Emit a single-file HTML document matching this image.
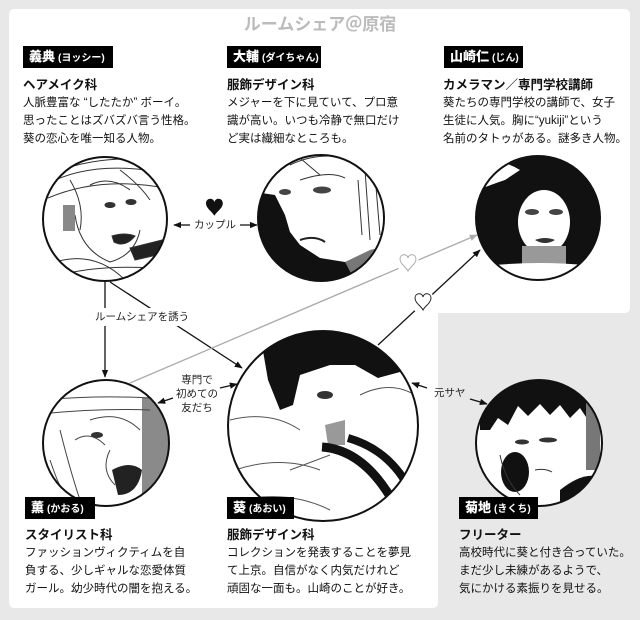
<!DOCTYPE html>
<html><head><meta charset="utf-8">
<style>
html,body{margin:0;padding:0;}
body{width:640px;height:620px;position:relative;overflow:hidden;background:#e8e8e8;font-family:"Liberation Sans","Noto Sans CJK JP",sans-serif;color:#111;}
svg{position:absolute;left:0;top:0;}
.t{position:absolute;white-space:nowrap;}
.title{left:0;top:15px;width:640px;text-align:center;font-size:17px;font-weight:bold;color:#bbb;line-height:20px;}
.lab{position:absolute;height:22px;line-height:22px;background:#000;color:#fff;font-weight:bold;white-space:nowrap;padding-left:6px;box-sizing:border-box;}
.lab b{font-size:13px;}
.lab span{font-size:10px;margin-left:3px;}
.col{position:absolute;white-space:nowrap;font-size:11.5px;line-height:18px;}
.col h{display:block;font-size:12.5px;font-weight:bold;}
.cl{position:absolute;font-size:10.5px;line-height:14px;white-space:nowrap;color:#222;}
</style></head>
<body>
<svg width="640" height="620" viewBox="0 0 640 620">
<defs>
<marker id="ah" viewBox="0 0 10 10" refX="9" refY="5" markerWidth="8" markerHeight="8" markerUnits="userSpaceOnUse" orient="auto"><path d="M0,1 L10,5 L0,9 z" fill="#111"/></marker>
<marker id="ahg" viewBox="0 0 10 10" refX="9" refY="5" markerWidth="8" markerHeight="8" markerUnits="userSpaceOnUse" orient="auto"><path d="M0,1 L10,5 L0,9 z" fill="#aaa"/></marker>
<clipPath id="c1"><circle cx="105" cy="219" r="62"/></clipPath>
<clipPath id="c2"><circle cx="321" cy="218" r="63"/></clipPath>
<clipPath id="c3"><circle cx="538" cy="218" r="62"/></clipPath>
<clipPath id="c4"><circle cx="106" cy="443" r="63"/></clipPath>
<clipPath id="c5"><circle cx="323" cy="426" r="95"/></clipPath>
<clipPath id="c6"><circle cx="539" cy="443" r="63"/></clipPath>
</defs>
<path d="M15,9 H624 Q630,9 630,15 V307 Q630,313 624,313 H438 V602 Q438,608 432,608 H15 Q9,608 9,602 V15 Q9,9 15,9 Z" fill="#fff"/>

<!-- connectors -->
<g stroke="#111" stroke-width="1.3" fill="none">
<line x1="190" y1="225" x2="174" y2="225" marker-end="url(#ah)"/>
<line x1="240" y1="225" x2="257" y2="225" marker-end="url(#ah)"/>
<line x1="105" y1="281" x2="105" y2="377" marker-end="url(#ah)"/>
<line x1="110" y1="282" x2="242" y2="368" marker-end="url(#ah)"/>
<line x1="378" y1="345" x2="480" y2="250" marker-end="url(#ah)"/>
<line x1="427" y1="388" x2="412" y2="383" marker-end="url(#ah)"/>
<line x1="470" y1="399" x2="487" y2="404" marker-end="url(#ah)"/>
<line x1="220" y1="388" x2="237" y2="384" marker-end="url(#ah)"/>
<line x1="173" y1="398" x2="158" y2="403" marker-end="url(#ah)"/>
</g>
<line x1="130" y1="383" x2="477" y2="235" stroke="#aaa" stroke-width="1.3" marker-end="url(#ahg)"/>

<!-- Yoshi -->
<circle cx="105" cy="219" r="62" fill="#fff"/>
<g clip-path="url(#c1)" fill="none" stroke="#333" stroke-width="1">
<path d="M45,185 Q90,160 160,172"/><path d="M48,198 Q100,176 165,188"/><path d="M55,172 Q100,155 150,160"/>
<path d="M70,180 Q85,205 80,230"/><path d="M75,215 Q80,250 110,262 Q135,255 140,230"/>
<path d="M55,262 Q95,250 125,280"/><path d="M60,275 Q100,265 150,268"/>
<path d="M90,185 Q110,175 130,190"/><path d="M120,170 Q140,185 150,200"/>
<rect x="63" y="205" width="12" height="26" fill="#888" stroke="none"/>
<ellipse cx="110" cy="205" rx="5" ry="2.5" fill="#333"/><ellipse cx="131" cy="202" rx="5" ry="2.5" fill="#333"/>
<path d="M112,236 Q125,232 135,236 Q125,248 114,242 Z" fill="#222"/>
<path d="M130,248 L170,238 L170,252 L135,260 Z" fill="#222"/>
</g>
<circle cx="105" cy="219" r="62" fill="none" stroke="#111" stroke-width="2"/>

<!-- Daisuke -->
<circle cx="321" cy="218" r="63" fill="#fff"/>
<g clip-path="url(#c2)">
<path d="M255,192 L275,195 L285,215 L290,232 L300,245 L320,258 L345,262 L360,260 L365,290 L255,290 Z" fill="#111"/>
<path d="M345,262 L370,250 L390,245 L390,290 L360,290 Z" fill="#777"/>
<g fill="none" stroke="#333" stroke-width="1"><path d="M290,165 Q320,150 360,160"/><path d="M300,180 Q330,170 345,178"/><path d="M365,170 L370,240"/><path d="M375,175 L380,235"/><path d="M358,180 L362,235"/><path d="M300,158 L320,175"/></g>
<ellipse cx="322" cy="190" rx="9" ry="3.5" fill="#444"/><ellipse cx="285" cy="192" rx="6" ry="3" fill="#444"/>
<path d="M300,240 Q315,235 325,242" stroke="#222" stroke-width="2" fill="none"/>
</g>
<circle cx="321" cy="218" r="63" fill="none" stroke="#111" stroke-width="2"/>

<!-- Jin -->
<circle cx="538" cy="218" r="62" fill="#111"/>
<g clip-path="url(#c3)">
<path d="M478,160 Q500,158 520,170 L505,180 Q490,185 478,190 Z" fill="#fff"/>
<ellipse cx="544" cy="222" rx="26" ry="32" fill="#fff"/>
<rect x="522" y="246" width="44" height="22" fill="#999"/>
<path d="M470,268 Q540,258 610,268 L610,290 L470,290 Z" fill="#fff"/>
<g fill="none" stroke="#333" stroke-width="1"><path d="M480,262 L500,280"/><path d="M585,262 L570,280"/></g>
<ellipse cx="532" cy="212" rx="7" ry="3" fill="#444"/><ellipse cx="556" cy="212" rx="7" ry="3" fill="#444"/>
<path d="M535,240 Q545,236 555,240 Q545,246 535,240Z" fill="#333"/>
</g>
<circle cx="538" cy="218" r="62" fill="none" stroke="#111" stroke-width="2"/>

<!-- Kaoru -->
<circle cx="106" cy="443" r="63" fill="#fff"/>
<g clip-path="url(#c4)">
<rect x="142" y="398" width="30" height="105" fill="#8a8a8a"/>
<g fill="none" stroke="#444" stroke-width="1"><path d="M40,400 Q100,395 150,398"/><path d="M40,414 Q100,408 150,410"/><path d="M60,430 Q70,470 80,500"/><path d="M90,420 Q120,410 140,430"/><path d="M110,450 Q100,470 115,485"/><path d="M50,460 Q60,490 70,505"/><path d="M75,440 Q90,430 105,445"/></g>
<ellipse cx="97" cy="435" rx="6" ry="3" fill="#333"/>
<path d="M112,470 Q130,460 142,470 Q138,495 118,495 Z" fill="#222"/>
</g>
<circle cx="106" cy="443" r="63" fill="none" stroke="#111" stroke-width="2"/>

<!-- Aoi -->
<circle cx="323" cy="426" r="95" fill="#fff"/>
<g clip-path="url(#c5)">
<path d="M262,345 L290,333 L340,328 L390,343 L400,372 L378,378 L355,365 L330,365 L300,375 L293,405 L280,410 L268,380 Z" fill="#111"/>
<path d="M325,425 L345,420 L345,445 L328,445 Z" fill="#999"/>
<path d="M322,447 Q365,450 395,505" stroke="#111" stroke-width="9" fill="none"/>
<path d="M348,438 Q390,450 410,490" stroke="#111" stroke-width="8" fill="none"/>
<g fill="none" stroke="#555" stroke-width="1"><path d="M230,420 Q270,410 300,430"/><path d="M235,470 Q280,455 320,470"/><path d="M240,500 Q290,490 330,510"/><path d="M360,395 Q390,380 415,395"/><path d="M330,455 L290,470"/></g>
<ellipse cx="325" cy="395" rx="8" ry="4" fill="#333"/>
</g>
<circle cx="323" cy="426" r="95" fill="none" stroke="#111" stroke-width="2"/>

<!-- Kikuchi -->
<circle cx="539" cy="443" r="63" fill="#fff"/>
<g clip-path="url(#c6)">
<path d="M480,380 L600,380 L600,412 L588,420 L580,408 L570,418 L560,405 L550,415 L540,404 L528,416 L518,406 L508,425 L498,418 L490,430 L480,430 Z" fill="#111"/>
<rect x="586" y="400" width="14" height="70" fill="#777"/>
<ellipse cx="515" cy="472" rx="14" ry="20" fill="#111"/>
<path d="M560,490 Q585,470 602,478 L602,510 L560,510 Z" fill="#111"/>
<ellipse cx="548" cy="440" rx="9" ry="2.5" fill="#333"/><ellipse cx="522" cy="442" rx="7" ry="2.5" fill="#333"/>
<g fill="none" stroke="#333" stroke-width="1"><path d="M500,455 Q505,480 520,495"/><path d="M535,470 Q545,468 552,472"/></g>
</g>
<circle cx="539" cy="443" r="63" fill="none" stroke="#111" stroke-width="2"/>

<!-- hearts -->
<path transform="translate(206,199) scale(1.05)" d="M0,4 C0,-1 7,-2 8,3 C9,-2 16,-1 16,4 C16,9 10,12 8,16 C6,12 0,9 0,4 Z" fill="#111"/>
<circle cx="408" cy="263" r="11" fill="#fff"/>
<path transform="translate(400,255)" d="M0,4 C0,-1 7,-2 8,3 C9,-2 16,-1 16,4 C16,9 10,12 8,16 C6,12 0,9 0,4 Z" fill="#fff" stroke="#aaa" stroke-width="1"/>
<circle cx="423" cy="302" r="12" fill="#fff"/>
<path transform="translate(415,294)" d="M0,4 C0,-1 7,-2 8,3 C9,-2 16,-1 16,4 C16,9 10,12 8,16 C6,12 0,9 0,4 Z" fill="#fff" stroke="#222" stroke-width="1"/>
</svg>

<div class="t title">ルームシェア＠原宿</div>

<div class="lab" style="left:23px;top:46px;width:90px;"><b>義典</b><span>(ヨッシー)</span></div>
<div class="lab" style="left:227px;top:46px;width:94px;"><b>大輔</b><span>(ダイちゃん)</span></div>
<div class="lab" style="left:444px;top:46px;width:79px;"><b>山崎仁</b><span>(じん)</span></div>

<div class="col" style="left:23px;top:76px;"><h>ヘアメイク科</h>人脈豊富な “したたか” ボーイ。<br>思ったことはズバズバ言う性格。<br>葵の恋心を唯一知る人物。</div>
<div class="col" style="left:227px;top:76px;"><h>服飾デザイン科</h>メジャーを下に見ていて、プロ意<br>識が高い。いつも冷静で無口だけ<br>ど実は繊細なところも。</div>
<div class="col" style="left:443px;top:76px;"><h>カメラマン／専門学校講師</h>葵たちの専門学校の講師で、女子<br>生徒に人気。胸に“yukiji”という<br>名前のタトゥがある。謎多き人物。</div>

<div class="lab" style="left:25px;top:497px;width:70px;"><b>薫</b><span>(かおる)</span></div>
<div class="lab" style="left:227px;top:497px;width:67px;"><b>葵</b><span>(あおい)</span></div>
<div class="lab" style="left:459px;top:497px;width:79px;"><b>菊地</b><span>(きくち)</span></div>

<div class="col" style="left:25px;top:526px;"><h>スタイリスト科</h>ファッションヴィクティムを自<br>負する、少しギャルな恋愛体質<br>ガール。幼少時代の闇を抱える。</div>
<div class="col" style="left:227px;top:526px;"><h>服飾デザイン科</h>コレクションを発表することを夢見<br>て上京。自信がなく内気だけれど<br>頑固な一面も。山崎のことが好き。</div>
<div class="col" style="left:459px;top:526px;"><h>フリーター</h>高校時代に葵と付き合っていた。<br>まだ少し未練があるようで、<br>気にかける素振りを見せる。</div>

<div class="cl" style="left:194px;top:218px;">カップル</div>
<div class="cl" style="left:93px;top:308px;background:#fff;padding:2px 2px;">ルームシェアを誘う</div>
<div class="cl" style="left:434px;top:386px;">元サヤ</div>
<div class="cl" style="left:172px;top:373px;width:50px;text-align:center;">専門で<br>初めての<br>友だち</div>
</body></html>
